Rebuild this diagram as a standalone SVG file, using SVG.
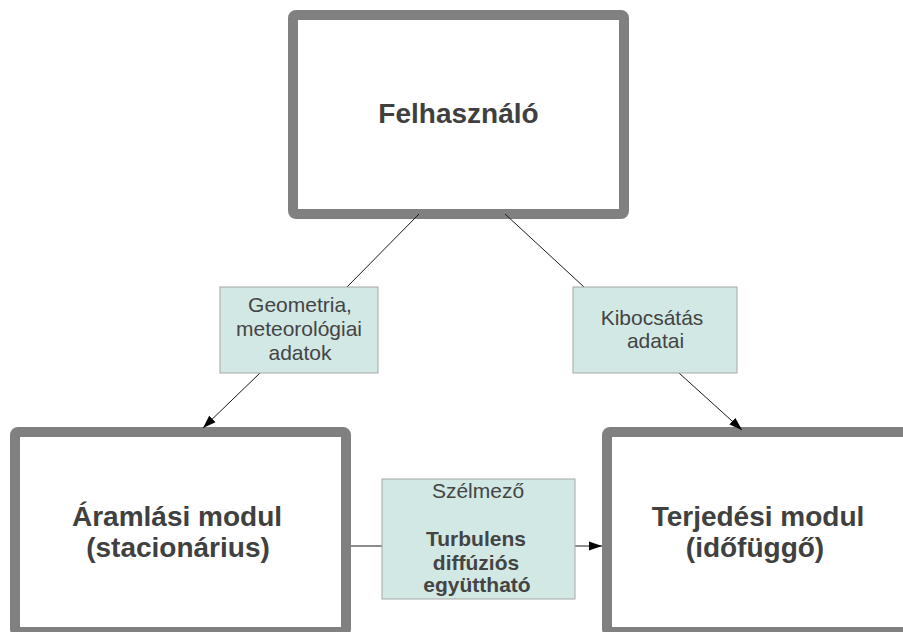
<svg xmlns="http://www.w3.org/2000/svg" width="903" height="632" viewBox="0 0 903 632">
<style>
.node{fill:#ffffff;stroke:#808080;stroke-width:10}
.lbl{fill:#d2e8e5;stroke:#a6a6a6;stroke-width:1}
.title{font-family:"Liberation Sans",Arial,sans-serif;font-size:28px;font-weight:bold;fill:#404040;text-anchor:middle}
.t{font-family:"Liberation Sans",Arial,sans-serif;font-size:21px;fill:#444444;text-anchor:middle}
.tb{font-weight:bold}
.conn{stroke:#1a1a1a;stroke-width:1;fill:none}
</style>
<defs>
<marker id="arr" markerUnits="userSpaceOnUse" markerWidth="14" markerHeight="10" refX="13" refY="5" orient="auto">
<path d="M0,0.5 L13,5 L0,9.5 z" fill="#000000"/>
</marker>
</defs>
<g id="felhasznalo">
<rect class="node" x="293" y="15" width="331" height="199" rx="3"/>
<text class="title" x="458.5" y="123">Felhasználó</text>
</g>
<g id="aramlasi">
<rect class="node" x="15" y="432" width="331" height="200" rx="3"/>
<text class="title" x="177" y="526">Áramlási modul</text>
<text class="title" x="178" y="557">(stacionárius)</text>
</g>
<g id="terjedesi">
<rect class="node" x="607" y="432" width="331" height="200" rx="3"/>
<text class="title" x="758" y="526">Terjedési modul</text>
<text class="title" x="755" y="557">(időfüggő)</text>
</g>
<g id="connectors">
<path class="conn" d="M419,214 L347,287"/>
<path class="conn" d="M260,373 L203,428" marker-end="url(#arr)"/>
<path class="conn" d="M505,214 L584,287"/>
<path class="conn" d="M679,373 L742,430" marker-end="url(#arr)"/>
<path class="conn" d="M351,546 L382,546"/>
<path class="conn" d="M575,546 L602,546" marker-end="url(#arr)"/>
</g>
<g id="label-geometria">
<rect class="lbl" x="220" y="287" width="158" height="86"/>
<text class="t" x="300" y="312">Geometria,</text>
<text class="t" x="299" y="336">meteorológiai</text>
<text class="t" x="300" y="360">adatok</text>
</g>
<g id="label-kibocsatas">
<rect class="lbl" x="573" y="287" width="164" height="86"/>
<text class="t" x="652" y="325">Kibocsátás</text>
<text class="t" x="655.5" y="348">adatai</text>
</g>
<g id="label-szelmezo">
<rect class="lbl" x="382" y="479" width="193" height="120"/>
<text class="t" x="478" y="498">Szélmező</text>
<text class="t tb" x="476" y="546">Turbulens</text>
<text class="t tb" x="476" y="570">diffúziós</text>
<text class="t tb" x="477" y="592">együttható</text>
</g>
</svg>
